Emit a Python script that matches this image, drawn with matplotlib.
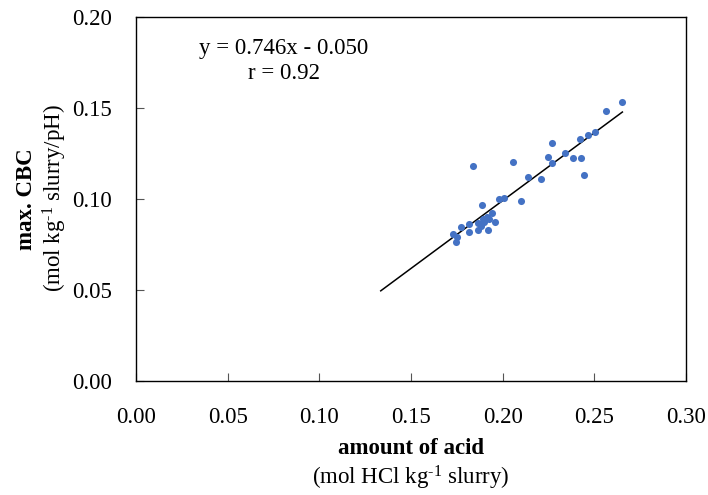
import matplotlib
matplotlib.use("Agg")
from matplotlib import pyplot as plt
import numpy as np

# values
acid = [0.2653, 0.2562, 0.2502, 0.2464, 0.2422, 0.2267, 0.2340, 0.2247, 0.2382, 0.2429,
        0.2271, 0.2058, 0.1840, 0.2445, 0.2138, 0.2211, 0.1982, 0.2007, 0.2102, 0.1889,
        0.1942, 0.1913, 0.1891, 0.1927, 0.1956, 0.1864, 0.1816, 0.1773, 0.1867, 0.1922,
        0.1816, 0.1731, 0.1753, 0.1744, 0.1900, 0.1880]
cbc = [0.1533, 0.1486, 0.1371, 0.1351, 0.1331, 0.1307, 0.1256, 0.1232, 0.1226, 0.1226,
       0.1199, 0.1206, 0.1182, 0.1133, 0.1124, 0.1113, 0.0999, 0.1004, 0.0992, 0.0968,
       0.0922, 0.0904, 0.0889, 0.0889, 0.0874, 0.0867, 0.0863, 0.0849, 0.0830, 0.0830,
       0.0821, 0.0808, 0.0794, 0.0766, 0.0876, 0.0850]

slope = 0.746
intercept = -0.050
line_x = [0.1335, 0.2653]

xticks = [0.00, 0.05, 0.10, 0.15, 0.20, 0.25, 0.30]
yticks = [0.00, 0.05, 0.10, 0.15, 0.20]

plt.rcParams['font.family'] = ['Liberation Serif', 'DejaVu Serif']
plt.rcParams['mathtext.fontset'] = 'custom'
plt.rcParams['mathtext.rm'] = 'Liberation Serif'
plt.rcParams['mathtext.default'] = 'regular'

fig = plt.figure(figsize=(7.08, 4.95), dpi=100)
ax = fig.add_axes([0.1921, 0.2303, 0.7768, 0.7347])

ax.scatter(acid, cbc, s=26, color='#4472C4', zorder=3, linewidths=0)
lx = np.array(line_x)
ax.plot(lx, slope * lx + intercept, color='black', lw=1.1, zorder=2)

ax.set_xlim(0, 0.30)
ax.set_ylim(0, 0.20)
ax.set_xticks(xticks)
ax.set_yticks(yticks)
ax.set_xticklabels(["%.2f" % t for t in xticks])
ax.set_yticklabels(["%.2f" % t for t in yticks])
ax.tick_params(direction='in', length=6, width=0.8, labelsize=16.5, color='#555555')
ax.tick_params(axis='x', pad=18.5)
ax.tick_params(axis='y', pad=17.5)
for s in ax.spines.values():
    s.set_linewidth(1.0)
    s.set_color('black')

ax.text(0.2685, 0.880, "y = 0.746x - 0.050\nr = 0.92", transform=ax.transAxes,
        ha='center', va='center', fontsize=16.5, linespacing=1.25)

fig.text(411 / 708, 1 - 448 / 495, "amount of acid", ha='center', va='center',
         fontsize=16.5, fontweight='bold')
fig.text(411 / 708, 1 - 478 / 495, r"(mol HCl kg$^{\text{-1}}$ slurry)", ha='center',
         va='center', fontsize=16.5)
fig.text(27 / 708, 1 - 199 / 495, "max. CBC", ha='center', va='center', rotation=90,
         fontsize=16.5, fontweight='bold')
fig.text(55 / 708, 1 - 198 / 495, r"(mol kg$^{\text{-1}}$ slurry/pH)", ha='center',
         va='center', rotation=90, fontsize=16.5)

fig.savefig("out.png", dpi=100)
